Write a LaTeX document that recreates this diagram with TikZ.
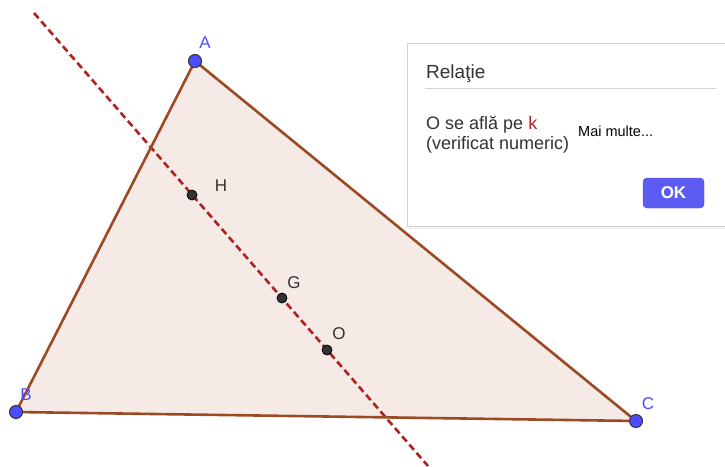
\documentclass[tikz,border=0pt]{standalone}
\usepackage{fontspec}
\setmainfont{Liberation Sans}
\usetikzlibrary{calc}
\definecolor{laturaMaro}{HTML}{9C4A24}
\definecolor{umplere}{HTML}{F5EAE5}
\definecolor{dreaptaRosu}{HTML}{B02222}
\definecolor{punctAlbastru}{HTML}{4D4DFF}
\definecolor{punctGri}{HTML}{333333}
\definecolor{chenarGri}{HTML}{D4D4D4}
\definecolor{butonAlbastru}{HTML}{5C5CF2}
\definecolor{textGri}{HTML}{333333}
\tikzset{
  varf/.style={circle,fill=punctAlbastru,draw=black!80,line width=1pt,inner sep=0pt,minimum size=13pt},
  centru/.style={circle,fill=punctGri,draw=black,line width=0.8pt,inner sep=0pt,minimum size=10pt},
  eticheta/.style={font=\fontsize{17}{19}\selectfont}
}

\begin{document}
\begin{tikzpicture}[x=1pt,y=-1pt]
\useasboundingbox (0,0) rectangle (725,466);
% varfurile si punctele
\coordinate (A) at (195,61);
\coordinate (B) at (16,412);
\coordinate (C) at (636,421);
\coordinate (H) at (192,195);
\coordinate (G) at (282,298);
\coordinate (O) at (327,350);
\coordinate (k1) at (34,13);
\coordinate (k2) at (428,466);
\fill[umplere] (A)--(B)--(C)--cycle;
\draw[dreaptaRosu,line width=2.6pt,dash pattern=on 7pt off 4pt] (k1)--(k2); % dreapta k
\draw[laturaMaro,line width=2.6pt,line join=round] (A)--(B)--(C)--cycle;
\node[varf] (pA) at (A) {};
\node[varf] (pB) at (B) {};
\node[varf] (pC) at (C) {};
\node[centru] (pH) at (H) {};
\node[centru] (pG) at (G) {};
\node[centru] (pO) at (O) {};
\node[eticheta,punctAlbastru] (lA) at (205,43) {A};
\node[eticheta,punctAlbastru] (lB) at (26,395) {B};
\node[eticheta,punctAlbastru] (lC) at (648,404) {C};
\node[eticheta,textGri] (lH) at (221,186) {H};
\node[eticheta,textGri] (lG) at (294,283) {G};
\node[eticheta,textGri] (lO) at (339,334) {O};
% fereastra
\fill[black!6] (409,45) rectangle (745,229);
\filldraw[fill=white,draw=chenarGri,line width=1pt] (407,43) rectangle (745,226);
\draw[chenarGri,line width=1pt] (425,88)--(716,88);
\node[anchor=base west,inner sep=0pt,textGri,font=\fontsize{19}{22}\selectfont] (titlu) at (426,78) {Relaţie};
\node[anchor=base west,inner sep=0pt,textGri,font=\fontsize{18}{20}\selectfont] (rel1) at (426,129) {O se află pe \textcolor{dreaptaRosu}{k}};
\node[anchor=base west,inner sep=0pt,textGri,font=\fontsize{18}{20}\selectfont] (rel2) at (426,149) {(verificat numeric)};
\node[anchor=base west,inner sep=0pt,black,font=\fontsize{14.5}{16}\selectfont] (mai) at (578,136) {Mai multe...};
\node[fill=butonAlbastru,draw=butonAlbastru!80!black,rounded corners=4pt,minimum width=61pt,minimum height=30pt,inner sep=0pt,text=white,font=\bfseries\fontsize{17}{18}\selectfont] (ok) at (673.5,193) {OK};
\end{tikzpicture}
\end{document}
